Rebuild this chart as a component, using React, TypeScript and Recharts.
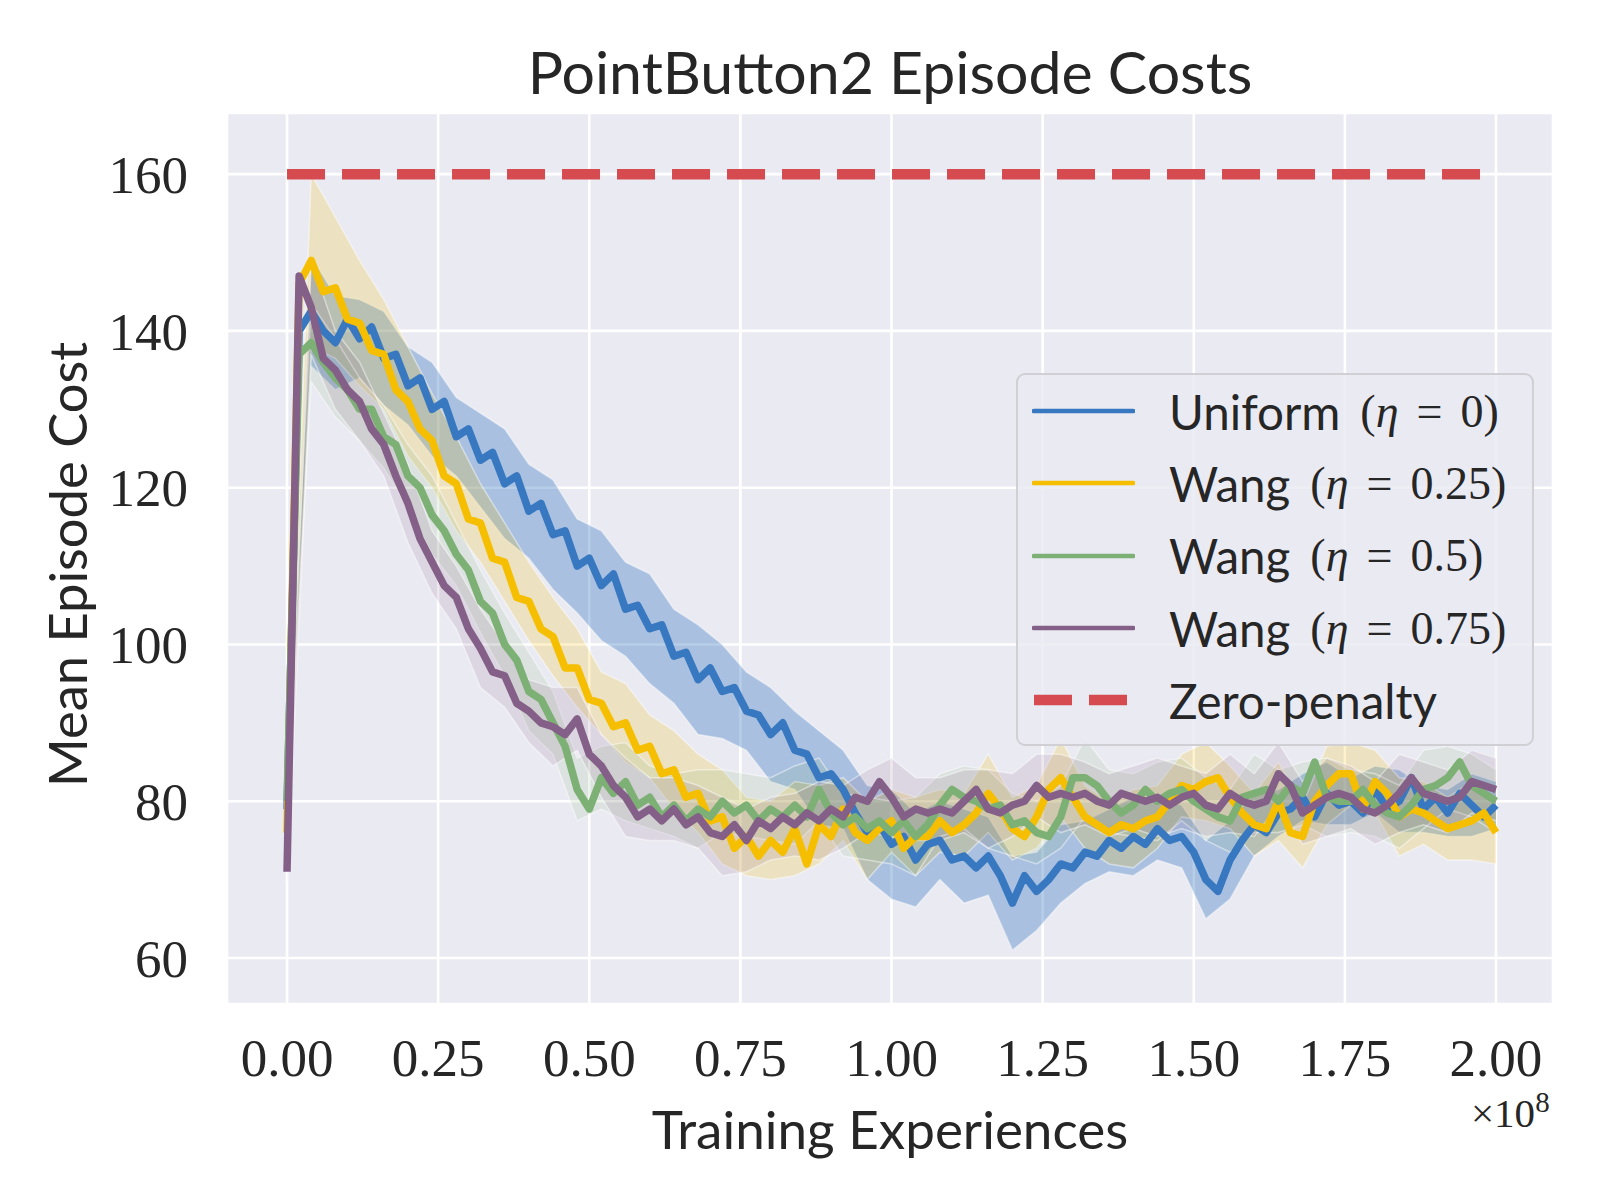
import React from 'react';
import {Area, CartesianGrid, ComposedChart, Label, Legend, Line, XAxis, YAxis} from 'recharts';

// x in units of 1e8 training experiences, one value every 0.02
const xValues = Array.from({length: 101}, (_, i) => Math.round(i * 2) / 100);

const uniform = [
    79, 140, 142.5, 140, 138.5, 141.5, 139, 140.5, 136.5, 137,
    133, 134, 130, 131, 126.5, 127.5, 123.5, 124.5, 120.5, 121.5,
    117, 118, 114, 114.5, 110, 111, 107.5, 109, 104.5, 105,
    102, 102.5, 98.5, 99, 95.5, 97, 94, 94.5, 91.5, 91,
    88.5, 90, 86.5, 86, 83, 83.5, 81.5, 78.5, 76, 77,
    74.5, 75.5, 72.5, 74.5, 75, 72.5, 73, 71.5, 73, 70.5,
    67, 70.5, 68.5, 70, 72, 71.5, 73.5, 73, 75, 74,
    75.5, 74.5, 76.5, 75, 75.5, 73.5, 70, 68.5, 72.5, 75,
    77, 76, 78.5, 79, 80.5, 78, 81, 79.5, 80, 78.5,
    81.5, 79, 80, 83, 79, 80.5, 78.5, 81, 79.5, 78,
    79.5,
];
const wang25 = [
    76, 146, 149, 145, 145.5, 141.5, 141, 137.5, 137, 132.5,
    131, 127.5, 126, 121.5, 120.5, 116, 115.5, 111, 110.5, 106,
    105.5, 102, 101, 97, 97, 93, 92.5, 89.5, 90, 86.5,
    87, 83.5, 84, 80.5, 81, 77.5, 78, 74, 75.5, 73,
    75, 73.5, 76.5, 72, 77, 75.5, 79, 76, 75, 76.5,
    77.5, 74, 75.5, 75.5, 77.5, 76, 77, 78.5, 81, 79,
    76.5, 75.5, 78, 81.5, 83, 80.5, 78, 77, 76, 77,
    76.5, 77.5, 78, 80, 82, 81.5, 82.5, 83, 80.5, 78.5,
    77, 76.5, 80, 76, 75.5, 80, 82, 83.5, 83.5, 79,
    82.5, 81, 78, 79, 78.5, 77.5, 76.5, 77, 77.5, 78.5,
    76,
];
const wang50 = [
    80, 137, 138.5, 136, 134, 132.5, 130, 130, 126.5, 125.5,
    121.5, 120, 116.5, 114.5, 111.5, 109.5, 105.5, 104, 100, 98,
    94, 93, 90, 87, 81.5, 79, 83, 81, 82.5, 79.5,
    80.5, 78, 79.5, 77.5, 79, 78, 80, 78.5, 79.5, 77.5,
    79, 78, 79.5, 78, 81.5, 78.5, 77, 78, 76.5, 77.5,
    76, 77.5, 75.5, 77, 79.5, 81.5, 80.5, 80, 79, 79.5,
    77, 77.5, 76, 75.5, 78, 83, 83, 82, 80, 78.5,
    79.5, 81.5, 80, 81, 81.5, 80, 79, 78, 77.5, 80.5,
    81, 81.5, 80, 82, 81, 85, 80.5, 80, 80, 81.5,
    79.5, 78.5, 78, 79.5, 81.5, 82, 83, 85, 82, 81,
    80,
];
const wang75 = [
    71, 147, 143, 136.5, 135, 132.5, 131, 127.5, 125.5, 121.5,
    118, 113.5, 110.5, 107.5, 106, 102, 99.5, 96.5, 96, 92.5,
    91.5, 90, 89.5, 88.5, 90.5, 86, 84.5, 82, 80.5, 78,
    79, 77.5, 79, 77, 78, 76, 75.5, 77, 75, 77.5,
    76.5, 78, 77, 78.5, 77.5, 79, 78, 80.5, 80, 82.5,
    80.5, 78, 79, 78.5, 79, 78.5, 80, 81.5, 79, 78.5,
    79.5, 80, 82, 80.5, 81, 80.5, 81, 80, 79.5, 81,
    80.5, 80, 80.5, 79.5, 80.5, 81, 79.5, 79, 81, 80,
    79.5, 80, 83.5, 82, 78.5, 79.5, 80.5, 81, 80.5, 79,
    78.5, 79.5, 81, 83, 81, 80.5, 80, 80.5, 82.5, 82,
    81.5,
];

// half width of the shaded spread, one value every 0.04
const uniformSpread = [
    2, 7, 6, 5, 6, 5, 6, 5, 6, 7,
    6, 7, 6, 7, 6, 7, 6, 7, 6, 5,
    6, 5, 6, 5, 6, 7, 6, 5, 6, 5,
    6, 5, 5, 4, 4, 5, 4, 4, 5, 5,
    4, 3, 3, 4, 3, 3, 4, 3, 3, 4,
    3,
];
const wang25Spread = [
    2, 11, 9, 8, 7, 7, 6, 6, 5, 5,
    5, 5, 5, 4, 5, 4, 5, 5, 6, 5,
    5, 6, 5, 4, 5, 4, 5, 4, 4, 5,
    4, 4, 5, 4, 4, 5, 4, 4, 5, 4,
    4, 5, 4, 5, 4, 4, 5, 4, 4, 5,
    4,
];
const wang50Spread = [
    2, 5, 5, 4, 4, 4, 5, 4, 4, 4,
    5, 4, 4, 4, 5, 4, 4, 5, 4, 4,
    4, 5, 4, 4, 4, 4, 5, 4, 4, 5,
    4, 4, 4, 5, 4, 4, 5, 4, 4, 4,
    5, 4, 4, 5, 4, 4, 4, 5, 4, 4,
    4,
];
const wang75Spread = [
    2, 6, 5, 5, 4, 5, 4, 4, 5, 4,
    4, 5, 4, 4, 5, 4, 4, 4, 5, 4,
    4, 4, 5, 4, 4, 5, 4, 4, 4, 5,
    4, 4, 5, 4, 4, 4, 5, 4, 4, 5,
    4, 4, 4, 5, 4, 4, 5, 4, 4, 4,
    4,
];

const zeroPenaltyX = [0, 1.99];
const zeroPenaltyCost = 160;

const xTicks = [0, 0.25, 0.5, 0.75, 1, 1.25, 1.5, 1.75, 2];
const yTicks = [60, 80, 100, 120, 140, 160];

const SANS = "Lato, 'Open Sans', sans-serif";
const SERIF = "'Liberation Serif', 'DejaVu Serif', serif";
const TEXT = '#262626';

const series = [
    {key: 'uniform', name: 'Uniform', eta: '0', color: '#3878c0', values: uniform, spread: uniformSpread, bandOpacity: 0.36},
    {key: 'wang25', name: 'Wang', eta: '0.25', color: '#f5bf00', values: wang25, spread: wang25Spread, bandOpacity: 0.2},
    {key: 'wang50', name: 'Wang', eta: '0.5', color: '#7db074', values: wang50, spread: wang50Spread, bandOpacity: 0.14},
    {key: 'wang75', name: 'Wang', eta: '0.75', color: '#845f87', values: wang75, spread: wang75Spread, bandOpacity: 0.14},
];
const zeroColor = '#d64b50';

const data = xValues.map((x, i) => {
    const row: any = {x};
    series.forEach(s => {
        row[s.key] = s.values[i];
    });
    return row;
});

const bandData = (values: number[], spread: number[]) =>
    spread.map((w, j) => ({x: xValues[2 * j], band: [values[2 * j] - w, values[2 * j] + w]}));

const zeroData = zeroPenaltyX.map(x => ({x, cost: zeroPenaltyCost}));

function Eta({value}: {value: string}) {
    return (
        <span style={{fontFamily: SERIF, fontSize: 46}}>
            (<span style={{fontStyle: 'italic'}}>η</span>
            <span style={{margin: '0 18px'}}>=</span>{value})
        </span>
    );
}

const renderLegend = () => (
    <div style={{
        boxSizing: 'border-box', width: 518, height: 373, paddingLeft: 14,
        border: '2.5px solid #cfcfd4', borderRadius: 9, background: 'rgba(234,234,242,0.85)',
        color: TEXT, fontSize: 47.5, fontFamily: SANS,
    }}>
        {series.map(s => (
            <div key={s.key} style={{display: 'flex', alignItems: 'center', height: 72.3}}>
                <svg width={103} height={10} style={{marginRight: 34}}>
                    <line x1={2} x2={101} y1={5} y2={5} stroke={s.color} strokeWidth={4.7} strokeLinecap="round"/>
                </svg>
                <span style={{marginRight: 20}}>{s.name}</span>
                <Eta value={s.eta}/>
            </div>
        ))}
        <div style={{display: 'flex', alignItems: 'center', height: 72.3}}>
            <svg width={103} height={12} style={{marginRight: 34}}>
                <line x1={2} x2={103} y1={6} y2={6} stroke={zeroColor} strokeWidth={10.5} strokeDasharray="38 17"/>
            </svg>
            <span>Zero-penalty</span>
        </div>
    </div>
);

export default function App() {
    return (
        <div style={{position: 'absolute', left: 0, top: 0, width: 1600, height: 1200, background: '#fff'}}>
            <div style={{
                position: 'absolute', left: 227, top: 37, width: 1326, height: 70, lineHeight: '70px',
                textAlign: 'center', fontFamily: SANS, fontSize: 59, color: TEXT,
            }}>
                PointButton2 Episode Costs
            </div>
            <ComposedChart width={1600} height={1200} data={data}
                           margin={{top: 113, right: 47, bottom: 116, left: 107}}>
                <CartesianGrid fill="#eaeaf2" stroke="#ffffff" strokeWidth={2.6}/>
                <XAxis type="number" dataKey="x" domain={[-0.0993, 2.0943]} ticks={xTicks} allowDataOverflow
                       tickFormatter={(v: number) => v.toFixed(2)} axisLine={false} tickLine={false}
                       tickSize={0} tickMargin={34} height={80} interval={0}
                       tick={{fontFamily: SERIF, fontSize: 53, fill: TEXT}}>
                    <Label content={({viewBox}: any) => (
                        <g>
                            <text x={viewBox.x + viewBox.width / 2} y={viewBox.y + viewBox.height + 44}
                                  textAnchor="middle" dominantBaseline="central"
                                  fontFamily={SANS} fontSize={53} fill={TEXT}>
                                Training Experiences
                            </text>
                            <text x={viewBox.x + viewBox.width - 82} y={viewBox.y + viewBox.height + 43}
                                  fontFamily={SERIF} fontSize={41} fill={TEXT}>
                                ×10<tspan dy={-15} fontSize={29}>8</tspan>
                            </text>
                        </g>
                    )}/>
                </XAxis>
                <YAxis type="number" domain={[54.13, 167.8]} ticks={yTicks} allowDataOverflow width={120}
                       axisLine={false} tickLine={false} tickSize={0} tickMargin={39} interval={0}
                       tick={{fontFamily: SERIF, fontSize: 53, fill: TEXT}}>
                    <Label content={({viewBox}: any) => {
                        const cx = viewBox.x - 41;
                        const cy = viewBox.y + viewBox.height / 2 + 6;
                        return (
                            <text x={cx} y={cy} transform={`rotate(-90 ${cx} ${cy})`} textAnchor="middle"
                                  dominantBaseline="central" fontFamily={SANS} fontSize={52.5} fill={TEXT}>
                                Mean Episode Cost
                            </text>
                        );
                    }}/>
                </YAxis>
                {series.map(s => [
                    <Area key={s.key + '-band'} data={bandData(s.values, s.spread)} dataKey="band"
                          type="linear" fill={s.color} fillOpacity={s.bandOpacity} stroke="#ffffff"
                          strokeOpacity={0.45} strokeWidth={1.5} dot={false} activeDot={false}
                          legendType="none" isAnimationActive={false}/>,
                    <Line key={s.key} dataKey={s.key} name={s.name} type="linear" stroke={s.color}
                          strokeWidth={7.5} strokeLinejoin="round" dot={false} activeDot={false}
                          isAnimationActive={false}/>,
                ])}
                <Line data={zeroData} dataKey="cost" name="Zero-penalty" type="linear" stroke={zeroColor}
                      strokeWidth={10.5} strokeDasharray="38 17" dot={false} activeDot={false}
                      isAnimationActive={false}/>
                <Legend content={renderLegend} layout="horizontal" verticalAlign="middle" align="center"
                        wrapperStyle={{left: 1016, top: 373, width: 518, height: 373}}/>
            </ComposedChart>
        </div>
    );
}
